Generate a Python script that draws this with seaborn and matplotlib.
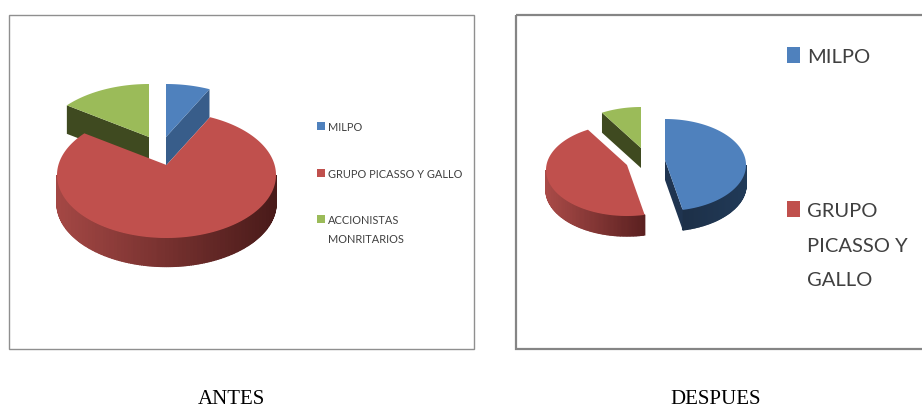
import numpy as np
import matplotlib
matplotlib.use('Agg')
import matplotlib.pyplot as plt
from matplotlib.patches import Rectangle
import seaborn as sns

# ── Data ──────────────────────────────────────────────────────────────────────
antes_labels = [['MILPO'], ['GRUPO PICASSO Y GALLO'], ['ACCIONISTAS', 'MONRITARIOS']]
antes_values = [6.5, 80.0, 13.5]
despues_labels = [['MILPO'], ['GRUPO', 'PICASSO Y', 'GALLO']]
despues_values = [46.5, 45.5, 8.0]
panel_titles = ['ANTES', 'DESPUES']

# ── Style ─────────────────────────────────────────────────────────────────────
sns.set_theme(style='white')
TOP_COLORS = sns.color_palette(['#4f81bd', '#c0504d', '#9bbb59'])

# rim gradient (left to right) and cut-face colour for each slice
ANTES_RIM = [('#3a5f8c', '#2b4668'), ('#a34744', '#481a19'), ('#3f4a20', '#3f4a20')]
ANTES_CUT = ['#385d8a', None, '#3f4a20']
DESPUES_RIM = [('#1d3048', '#213a58'), ('#a84a47', '#5a2020'), ('#3f4a20', '#3f4a20')]
DESPUES_CUT = ['#1f3450', None, '#3f4a20']

# pixel layout: slice apex, ellipse radii, perspective shift, depth, draw order
ANTES_APEX = [(166, 137), (166.5, 165), (149, 137)]
ANTES_GEOM = dict(rx=109.5, ry=63, shift=10, depth=28.5, order=[2, 0, 1])
DESPUES_APEX = [(665, 160), (627, 165), (641, 148)]
DESPUES_GEOM = dict(rx=81, ry=46, shift=5, depth=20, order=[2, 0, 1])


def rim_xy(apex, geom, theta):
    # theta in degrees, clockwise from the top of the pie
    t = np.radians(theta)
    return (apex[0] + geom['rx'] * np.sin(t),
            apex[1] + geom['shift'] - geom['ry'] * np.cos(t))


def draw_pie(ax, values, apexes, geom, rims, cuts):
    shares = np.array(values) / np.sum(values) * 360
    ends = np.cumsum(shares)
    starts = ends - shares
    for i in geom['order']:
        t0, t1 = starts[i], ends[i]
        apex = apexes[i]
        depth = geom['depth']

        # outer rim, only the part facing the viewer
        lo, hi = max(t0, 90), min(t1, 270)
        if hi > lo:
            thetas = np.arange(lo, hi + 1, 1.0)
            thetas[-1] = hi
            xs, ys = rim_xy(apex, geom, thetas)
            shades = sns.blend_palette(rims[i], 64)
            span = max(xs.max() - xs.min(), 1)
            for j in range(len(thetas) - 1):
                frac = (0.5 * (xs[j] + xs[j + 1]) - xs.min()) / span
                col = shades[int(frac * 63)]
                ax.fill([xs[j], xs[j + 1], xs[j + 1], xs[j]],
                        [ys[j], ys[j + 1], ys[j + 1] + depth, ys[j] + depth],
                        color=col, lw=1.0, zorder=2)

        # flat cut face of an exploded slice
        if cuts[i] is not None:
            edge = t1 if i == 0 else t0
            ex, ey = rim_xy(apex, geom, edge)
            ax.fill([apex[0], ex, ex, apex[0]],
                    [apex[1], ey, ey + depth, apex[1] + depth],
                    color=cuts[i], lw=0, zorder=2)

        # top surface
        thetas = np.linspace(t0, t1, 200)
        xs, ys = rim_xy(apex, geom, thetas)
        ax.fill(np.r_[apex[0], xs], np.r_[apex[1], ys],
                color=TOP_COLORS[i], lw=0, zorder=2)


fig = plt.figure(figsize=(9.22, 4.05), dpi=100)
ax = fig.add_axes([0, 0, 1, 1])
ax.set_xlim(0, 922)
ax.set_ylim(405, 0)
ax.axis('off')

# ── Panel frames ──────────────────────────────────────────────────────────────
ax.add_patch(Rectangle((9, 15), 465, 334, fill=False, ec='#8f8f8f', lw=1.0))
ax.add_patch(Rectangle((516, 15), 430, 334, fill=False, ec='#858585', lw=1.6))

# ── Pies ──────────────────────────────────────────────────────────────────────
# order matters: each pie is painted back to front
draw_pie(ax, antes_values, ANTES_APEX, ANTES_GEOM, ANTES_RIM, ANTES_CUT)
draw_pie(ax, despues_values, DESPUES_APEX, DESPUES_GEOM, DESPUES_RIM, DESPUES_CUT)

# ── Legends ───────────────────────────────────────────────────────────────────
# one text per line so each baseline lands where the reference has it
for i, (lines, y) in enumerate(zip(antes_labels, [131, 178, 224])):
    ax.add_patch(Rectangle((317, y - 9), 8, 8, color=TOP_COLORS[i], lw=0))
    for k, line in enumerate(lines):
        ax.text(328, y + 19 * k, line, family='Lato', fontsize=7.9, color='#404040',
                va='baseline', ha='left')

for i, (lines, y) in enumerate(zip(despues_labels, [63, 217])):
    ax.add_patch(Rectangle((787, y - 16), 13, 16, color=TOP_COLORS[i], lw=0))
    for k, line in enumerate(lines):
        ax.text(807, y + 34.5 * k, line, family='Lato', fontsize=14.5, color='#404040',
                va='baseline', ha='left')

# ── Panel captions ────────────────────────────────────────────────────────────
for title, x in zip(panel_titles, [231.5, 715.5]):
    ax.text(x, 403.5, title, family='Liberation Serif', fontsize=15, color='black',
            ha='center', va='baseline')

plt.savefig('out.png', dpi=100)
plt.close()
